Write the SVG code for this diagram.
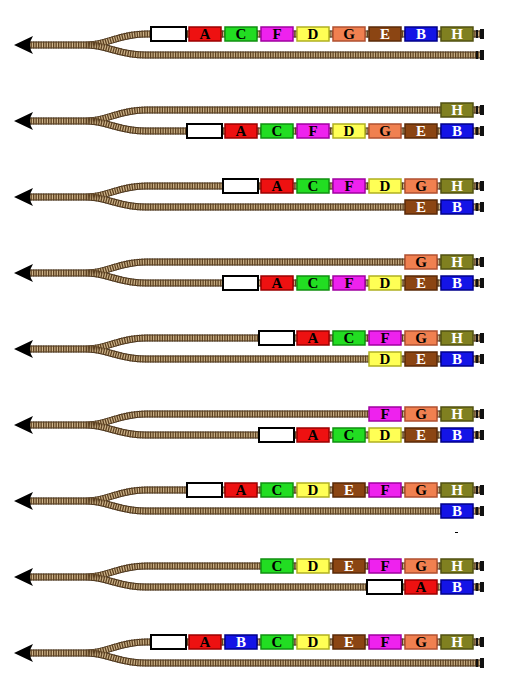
<svg xmlns="http://www.w3.org/2000/svg" xmlns:xlink="http://www.w3.org/1999/xlink" width="524" height="697" viewBox="0 0 524 697">
<style>
.bed{fill:none;stroke:#3d2b17;stroke-width:7}
.ballast{fill:none;stroke:#cdb48a;stroke-width:5}
.ties{fill:none;stroke:#5e4222;stroke-width:7;stroke-dasharray:1.3 1.2}
.car rect{stroke-width:1.5}
.car text{font-family:"Liberation Serif","DejaVu Serif",serif;font-weight:bold;font-size:15px;text-anchor:middle;fill:#000}
.cW rect{fill:#fff;stroke:#000;stroke-width:2}
.cA rect{fill:#ee1111;stroke:#9a0000}
.cB rect{fill:#1414e6;stroke:#00008a}
.cB text,.cE text,.cH text{fill:#fff}
.cC rect{fill:#22dd22;stroke:#109010}
.cD rect{fill:#ffff55;stroke:#b0b020}
.cE rect{fill:#8b4513;stroke:#5a2a08}
.cF rect{fill:#ee22ee;stroke:#a000a0}
.cG rect{fill:#f08050;stroke:#b05030}
.cH rect{fill:#808020;stroke:#505010}
.arrow{fill:#000}
.buf{fill:#111}
</style>
<defs>
<path id="tp" fill="none" d="M 28 0 L 86 0 C 108 0 118 -11 146 -11 L 480 -11 M 86 0 C 108 0 118 10 146 10 L 480 10"/>
<g id="track">
<use xlink:href="#tp" class="bed"/>
<use xlink:href="#tp" class="ballast"/>
<use xlink:href="#tp" class="ties"/>
<path class="arrow" d="M 14 0 L 33 -9 Q 27 0 33 9 Z"/>
<rect class="buf" x="476" y="-15" width="2" height="8"/>
<rect class="buf" x="480" y="-16" width="4" height="10"/>
<rect class="buf" x="476" y="6" width="2" height="8"/>
<rect class="buf" x="480" y="5" width="4" height="10"/>
</g>
</defs>
<g id="connectors">
<use xlink:href="#track" y="45"/>
<use xlink:href="#track" y="121"/>
<use xlink:href="#track" y="197"/>
<use xlink:href="#track" y="273"/>
<use xlink:href="#track" y="349"/>
<use xlink:href="#track" y="425"/>
<use xlink:href="#track" y="501"/>
<use xlink:href="#track" y="577"/>
<use xlink:href="#track" y="653"/>
</g>
<g id="row1" transform="translate(0,34)">
<g id="r1W" class="car cW"><rect x="151" y="-7" width="35" height="14"/></g>
<g id="r1A" class="car cA" transform="translate(189,0)"><rect y="-7" width="32" height="14"/><text x="16" y="5">A</text></g>
<g id="r1C" class="car cC" transform="translate(225,0)"><rect y="-7" width="32" height="14"/><text x="16" y="5">C</text></g>
<g id="r1F" class="car cF" transform="translate(261,0)"><rect y="-7" width="32" height="14"/><text x="16" y="5">F</text></g>
<g id="r1D" class="car cD" transform="translate(297,0)"><rect y="-7" width="32" height="14"/><text x="16" y="5">D</text></g>
<g id="r1G" class="car cG" transform="translate(333,0)"><rect y="-7" width="32" height="14"/><text x="16" y="5">G</text></g>
<g id="r1E" class="car cE" transform="translate(369,0)"><rect y="-7" width="32" height="14"/><text x="16" y="5">E</text></g>
<g id="r1B" class="car cB" transform="translate(405,0)"><rect y="-7" width="32" height="14"/><text x="16" y="5">B</text></g>
<g id="r1H" class="car cH" transform="translate(441,0)"><rect y="-7" width="32" height="14"/><text x="16" y="5">H</text></g>
</g>
<g id="row2">
<g id="r2H" class="car cH" transform="translate(441,110)"><rect y="-7" width="32" height="14"/><text x="16" y="5">H</text></g>
<g transform="translate(0,131)">
<g id="r2W" class="car cW"><rect x="187" y="-7" width="35" height="14"/></g>
<g id="r2A" class="car cA" transform="translate(225,0)"><rect y="-7" width="32" height="14"/><text x="16" y="5">A</text></g>
<g id="r2C" class="car cC" transform="translate(261,0)"><rect y="-7" width="32" height="14"/><text x="16" y="5">C</text></g>
<g id="r2F" class="car cF" transform="translate(297,0)"><rect y="-7" width="32" height="14"/><text x="16" y="5">F</text></g>
<g id="r2D" class="car cD" transform="translate(333,0)"><rect y="-7" width="32" height="14"/><text x="16" y="5">D</text></g>
<g id="r2G" class="car cG" transform="translate(369,0)"><rect y="-7" width="32" height="14"/><text x="16" y="5">G</text></g>
<g id="r2E" class="car cE" transform="translate(405,0)"><rect y="-7" width="32" height="14"/><text x="16" y="5">E</text></g>
<g id="r2B" class="car cB" transform="translate(441,0)"><rect y="-7" width="32" height="14"/><text x="16" y="5">B</text></g>
</g>
</g>
<g id="row3">
<g transform="translate(0,186)">
<g id="r3W" class="car cW"><rect x="223" y="-7" width="35" height="14"/></g>
<g id="r3A" class="car cA" transform="translate(261,0)"><rect y="-7" width="32" height="14"/><text x="16" y="5">A</text></g>
<g id="r3C" class="car cC" transform="translate(297,0)"><rect y="-7" width="32" height="14"/><text x="16" y="5">C</text></g>
<g id="r3F" class="car cF" transform="translate(333,0)"><rect y="-7" width="32" height="14"/><text x="16" y="5">F</text></g>
<g id="r3D" class="car cD" transform="translate(369,0)"><rect y="-7" width="32" height="14"/><text x="16" y="5">D</text></g>
<g id="r3G" class="car cG" transform="translate(405,0)"><rect y="-7" width="32" height="14"/><text x="16" y="5">G</text></g>
<g id="r3H" class="car cH" transform="translate(441,0)"><rect y="-7" width="32" height="14"/><text x="16" y="5">H</text></g>
</g>
<g transform="translate(0,207)">
<g id="r3E" class="car cE" transform="translate(405,0)"><rect y="-7" width="32" height="14"/><text x="16" y="5">E</text></g>
<g id="r3B" class="car cB" transform="translate(441,0)"><rect y="-7" width="32" height="14"/><text x="16" y="5">B</text></g>
</g>
</g>
<g id="row4">
<g transform="translate(0,262)">
<g id="r4G" class="car cG" transform="translate(405,0)"><rect y="-7" width="32" height="14"/><text x="16" y="5">G</text></g>
<g id="r4H" class="car cH" transform="translate(441,0)"><rect y="-7" width="32" height="14"/><text x="16" y="5">H</text></g>
</g>
<g transform="translate(0,283)">
<g id="r4W" class="car cW"><rect x="223" y="-7" width="35" height="14"/></g>
<g id="r4A" class="car cA" transform="translate(261,0)"><rect y="-7" width="32" height="14"/><text x="16" y="5">A</text></g>
<g id="r4C" class="car cC" transform="translate(297,0)"><rect y="-7" width="32" height="14"/><text x="16" y="5">C</text></g>
<g id="r4F" class="car cF" transform="translate(333,0)"><rect y="-7" width="32" height="14"/><text x="16" y="5">F</text></g>
<g id="r4D" class="car cD" transform="translate(369,0)"><rect y="-7" width="32" height="14"/><text x="16" y="5">D</text></g>
<g id="r4E" class="car cE" transform="translate(405,0)"><rect y="-7" width="32" height="14"/><text x="16" y="5">E</text></g>
<g id="r4B" class="car cB" transform="translate(441,0)"><rect y="-7" width="32" height="14"/><text x="16" y="5">B</text></g>
</g>
</g>
<g id="row5">
<g transform="translate(0,338)">
<g id="r5W" class="car cW"><rect x="259" y="-7" width="35" height="14"/></g>
<g id="r5A" class="car cA" transform="translate(297,0)"><rect y="-7" width="32" height="14"/><text x="16" y="5">A</text></g>
<g id="r5C" class="car cC" transform="translate(333,0)"><rect y="-7" width="32" height="14"/><text x="16" y="5">C</text></g>
<g id="r5F" class="car cF" transform="translate(369,0)"><rect y="-7" width="32" height="14"/><text x="16" y="5">F</text></g>
<g id="r5G" class="car cG" transform="translate(405,0)"><rect y="-7" width="32" height="14"/><text x="16" y="5">G</text></g>
<g id="r5H" class="car cH" transform="translate(441,0)"><rect y="-7" width="32" height="14"/><text x="16" y="5">H</text></g>
</g>
<g transform="translate(0,359)">
<g id="r5D" class="car cD" transform="translate(369,0)"><rect y="-7" width="32" height="14"/><text x="16" y="5">D</text></g>
<g id="r5E" class="car cE" transform="translate(405,0)"><rect y="-7" width="32" height="14"/><text x="16" y="5">E</text></g>
<g id="r5B" class="car cB" transform="translate(441,0)"><rect y="-7" width="32" height="14"/><text x="16" y="5">B</text></g>
</g>
</g>
<g id="row6">
<g transform="translate(0,414)">
<g id="r6F" class="car cF" transform="translate(369,0)"><rect y="-7" width="32" height="14"/><text x="16" y="5">F</text></g>
<g id="r6G" class="car cG" transform="translate(405,0)"><rect y="-7" width="32" height="14"/><text x="16" y="5">G</text></g>
<g id="r6H" class="car cH" transform="translate(441,0)"><rect y="-7" width="32" height="14"/><text x="16" y="5">H</text></g>
</g>
<g transform="translate(0,435)">
<g id="r6W" class="car cW"><rect x="259" y="-7" width="35" height="14"/></g>
<g id="r6A" class="car cA" transform="translate(297,0)"><rect y="-7" width="32" height="14"/><text x="16" y="5">A</text></g>
<g id="r6C" class="car cC" transform="translate(333,0)"><rect y="-7" width="32" height="14"/><text x="16" y="5">C</text></g>
<g id="r6D" class="car cD" transform="translate(369,0)"><rect y="-7" width="32" height="14"/><text x="16" y="5">D</text></g>
<g id="r6E" class="car cE" transform="translate(405,0)"><rect y="-7" width="32" height="14"/><text x="16" y="5">E</text></g>
<g id="r6B" class="car cB" transform="translate(441,0)"><rect y="-7" width="32" height="14"/><text x="16" y="5">B</text></g>
</g>
</g>
<g id="row7">
<g transform="translate(0,490)">
<g id="r7W" class="car cW"><rect x="187" y="-7" width="35" height="14"/></g>
<g id="r7A" class="car cA" transform="translate(225,0)"><rect y="-7" width="32" height="14"/><text x="16" y="5">A</text></g>
<g id="r7C" class="car cC" transform="translate(261,0)"><rect y="-7" width="32" height="14"/><text x="16" y="5">C</text></g>
<g id="r7D" class="car cD" transform="translate(297,0)"><rect y="-7" width="32" height="14"/><text x="16" y="5">D</text></g>
<g id="r7E" class="car cE" transform="translate(333,0)"><rect y="-7" width="32" height="14"/><text x="16" y="5">E</text></g>
<g id="r7F" class="car cF" transform="translate(369,0)"><rect y="-7" width="32" height="14"/><text x="16" y="5">F</text></g>
<g id="r7G" class="car cG" transform="translate(405,0)"><rect y="-7" width="32" height="14"/><text x="16" y="5">G</text></g>
<g id="r7H" class="car cH" transform="translate(441,0)"><rect y="-7" width="32" height="14"/><text x="16" y="5">H</text></g>
</g>
<g id="r7B" class="car cB" transform="translate(441,511)"><rect y="-7" width="32" height="14"/><text x="16" y="5">B</text></g>
<rect x="455" y="532" width="3" height="1" fill="#000"/>
</g>
<g id="row8">
<g transform="translate(0,566)">
<g id="r8C" class="car cC" transform="translate(261,0)"><rect y="-7" width="32" height="14"/><text x="16" y="5">C</text></g>
<g id="r8D" class="car cD" transform="translate(297,0)"><rect y="-7" width="32" height="14"/><text x="16" y="5">D</text></g>
<g id="r8E" class="car cE" transform="translate(333,0)"><rect y="-7" width="32" height="14"/><text x="16" y="5">E</text></g>
<g id="r8F" class="car cF" transform="translate(369,0)"><rect y="-7" width="32" height="14"/><text x="16" y="5">F</text></g>
<g id="r8G" class="car cG" transform="translate(405,0)"><rect y="-7" width="32" height="14"/><text x="16" y="5">G</text></g>
<g id="r8H" class="car cH" transform="translate(441,0)"><rect y="-7" width="32" height="14"/><text x="16" y="5">H</text></g>
</g>
<g transform="translate(0,587)">
<g id="r8W" class="car cW"><rect x="367" y="-7" width="35" height="14"/></g>
<g id="r8A" class="car cA" transform="translate(405,0)"><rect y="-7" width="32" height="14"/><text x="16" y="5">A</text></g>
<g id="r8B" class="car cB" transform="translate(441,0)"><rect y="-7" width="32" height="14"/><text x="16" y="5">B</text></g>
</g>
</g>
<g id="row9" transform="translate(0,642)">
<g id="r9W" class="car cW"><rect x="151" y="-7" width="35" height="14"/></g>
<g id="r9A" class="car cA" transform="translate(189,0)"><rect y="-7" width="32" height="14"/><text x="16" y="5">A</text></g>
<g id="r9B" class="car cB" transform="translate(225,0)"><rect y="-7" width="32" height="14"/><text x="16" y="5">B</text></g>
<g id="r9C" class="car cC" transform="translate(261,0)"><rect y="-7" width="32" height="14"/><text x="16" y="5">C</text></g>
<g id="r9D" class="car cD" transform="translate(297,0)"><rect y="-7" width="32" height="14"/><text x="16" y="5">D</text></g>
<g id="r9E" class="car cE" transform="translate(333,0)"><rect y="-7" width="32" height="14"/><text x="16" y="5">E</text></g>
<g id="r9F" class="car cF" transform="translate(369,0)"><rect y="-7" width="32" height="14"/><text x="16" y="5">F</text></g>
<g id="r9G" class="car cG" transform="translate(405,0)"><rect y="-7" width="32" height="14"/><text x="16" y="5">G</text></g>
<g id="r9H" class="car cH" transform="translate(441,0)"><rect y="-7" width="32" height="14"/><text x="16" y="5">H</text></g>
</g>
</svg>
